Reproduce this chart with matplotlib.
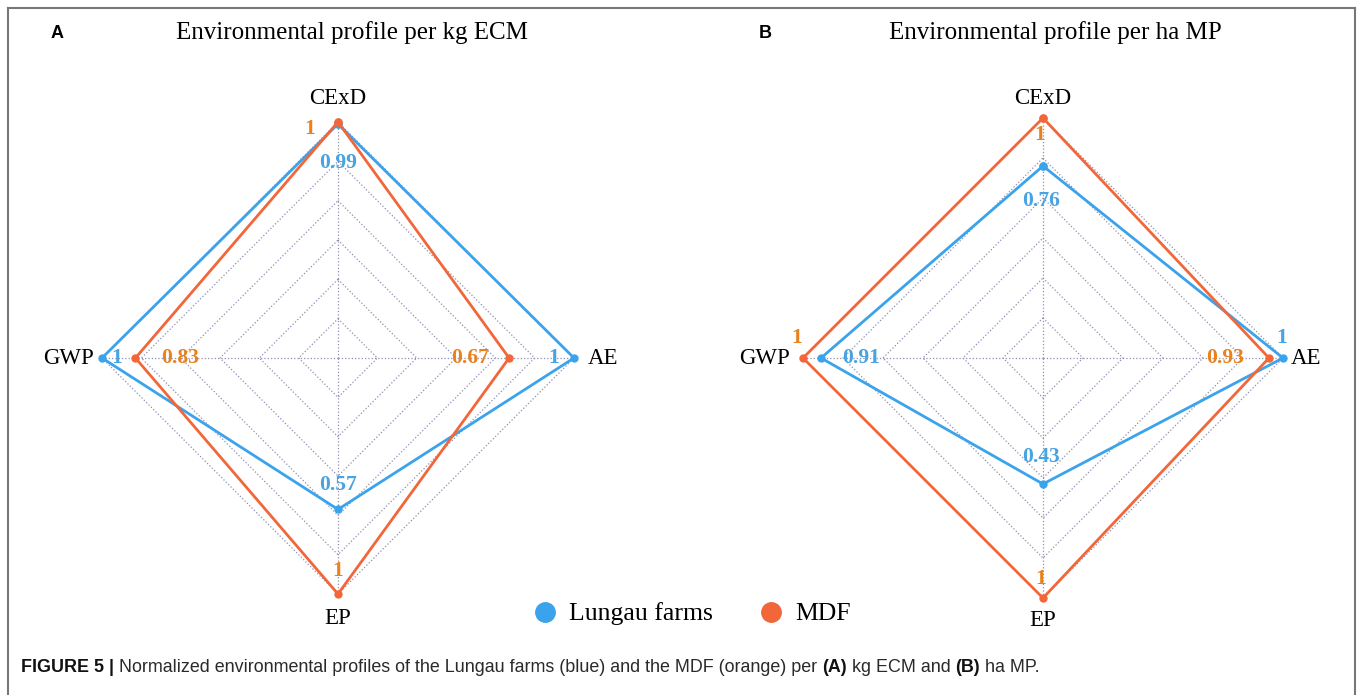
import matplotlib
matplotlib.use("Agg")
import matplotlib.pyplot as plt
import numpy as np
from matplotlib.lines import Line2D

# Данные
axes_names = ['CExD', 'AE', 'EP', 'GWP']
titles = ['Environmental profile per kg ECM', 'Environmental profile per ha MP']
panel_letters = ['A', 'B']
series_names = ['Lungau farms', 'MDF']
lungau_a = [0.99, 1, 0.57, 1]
mdf_a = [1, 0.67, 1, 0.83]
lungau_b = [0.76, 1, 0.43, 0.91]
mdf_b = [1, 0.93, 1, 1]
ring_levels = [0, 0.2, 0.4, 0.6, 0.8, 1.0]
r_min, r_max = -0.2, 1.0
caption_parts = [
    ('FIGURE 5 | ', 'bold'),
    ('Normalized environmental profiles of the Lungau farms (blue) and the MDF (orange) per ', 'normal'),
    ('(A)', 'bold'),
    (' kg ECM and ', 'normal'),
    ('(B)', 'bold'),
    (' ha MP.', 'normal'),
]

blue = '#3aa3ec'
orange = '#f2673a'
blue_txt = '#47a3e2'
orange_txt = '#e8821e'
grid_col = '#8e8eb2'
serif = 'Liberation Serif'

# смещения подписей значений (пиксели) для каждой панели: [lungau, mdf] x 4 оси
label_offsets = [
    [[(0, -39), (-20, 0), (0, 24), (15, 0)],
     [(-28, -7), (-39, 0), (0, 23), (45, 0)]],
    [[(-2, -35), (-1, 20), (-2, 27), (40, 0)],
     [(-3, -17), (-44, 0), (-2, 19), (-6, 20)]],
]
name_offsets = [
    [(0, 24), (29, 0), (0, -24), (-33, 0)],
    [(0, 20), (23, 0), (0, -23), (-38, 0)],
]

W, H = 1358, 695
fig = plt.figure(figsize=(W / 100, H / 100), dpi=100)

centers = [(338, 358, 236), (1043, 358, 240)]
data = [(lungau_a, mdf_a), (lungau_b, mdf_b)]
angles = np.arange(len(axes_names)) * 2 * np.pi / len(axes_names)

for p, (cx, cy, R) in enumerate(centers):
    ax = fig.add_axes([(cx - R) / W, (H - cy - R) / H, 2 * R / W, 2 * R / H],
                      projection='polar')
    ax.set_theta_zero_location('N')
    ax.set_theta_direction(-1)
    ax.set_ylim(r_min, r_max)
    ax.grid(False)
    ax.set_xticks([])
    ax.set_yticks([])
    ax.spines['polar'].set_visible(False)
    ax.patch.set_alpha(0)

    closed = np.append(angles, angles[0])
    for lv in ring_levels:
        ax.plot(closed, [lv] * len(closed), ls=':', color=grid_col, lw=0.9,
                clip_on=False, zorder=1)
    for a in angles:
        ax.plot([a, a], [r_min, r_max], ls=':', color=grid_col, lw=0.9,
                clip_on=False, zorder=1)

    for s, (vals, col, tcol) in enumerate(zip(data[p], [blue, orange],
                                               [blue_txt, orange_txt])):
        ax.plot(closed, list(vals) + [vals[0]], color=col, lw=2,
                marker='o', ms=5, clip_on=False, zorder=3 + s)
        for k, v in enumerate(vals):
            ax.annotate(f'{v:g}', (angles[k], v),
                        xytext=label_offsets[p][s][k], textcoords='offset pixels',
                        ha='center', va='center', color=tcol, fontsize=15.5,
                        fontweight='bold', family=serif, zorder=6,
                        annotation_clip=False)

    for k, name in enumerate(axes_names):
        ax.annotate(name, (angles[k], r_max), xytext=name_offsets[p][k],
                    textcoords='offset pixels', ha='center', va='center',
                    fontsize=16.5, family=serif, annotation_clip=False)

# заголовки
fig.text(57 / W, 1 - 33 / H, panel_letters[0], fontsize=13, fontweight='bold',
         ha='center', va='center', family='Liberation Sans')
fig.text(352 / W, 1 - 33 / H, titles[0], fontsize=18, ha='center', va='center',
         family=serif)
fig.text(765 / W, 1 - 33 / H, panel_letters[1], fontsize=13, fontweight='bold',
         ha='center', va='center', family='Liberation Sans')
fig.text(1055 / W, 1 - 33 / H, titles[1], fontsize=18, ha='center', va='center',
         family=serif)

# легенда
handles = [Line2D([], [], ls='none', marker='o', ms=14, color=c)
           for c in [blue, orange]]
fig.legend(handles, series_names, loc='center', bbox_to_anchor=(688 / W, 1 - 614 / H),
           ncol=2, frameon=False, prop={'family': serif, 'size': 18.5},
           handletextpad=0.2, columnspacing=1.5, handlelength=1.5)

# рамка
fig.add_artist(Line2D([8 / W, 8 / W], [0, 1 - 8 / H], color='#777777', lw=1.5))
fig.add_artist(Line2D([8 / W, 1355 / W], [1 - 8 / H, 1 - 8 / H], color='#777777', lw=1.5))
fig.add_artist(Line2D([1355 / W, 1355 / W], [0, 1 - 8 / H], color='#777777', lw=1.5))

# подпись
x = 21
fig.canvas.draw()
renderer = fig.canvas.get_renderer()
for txt, wt in caption_parts:
    t = fig.text(x / W, 1 - 668 / H, txt, fontsize=12.9, fontweight=wt,
                 va='center', family='Liberation Sans',
                 color='#111111' if wt == 'bold' else '#2a2a2a')
    x = t.get_window_extent(renderer).x1

fig.savefig('out.png', dpi=100)
